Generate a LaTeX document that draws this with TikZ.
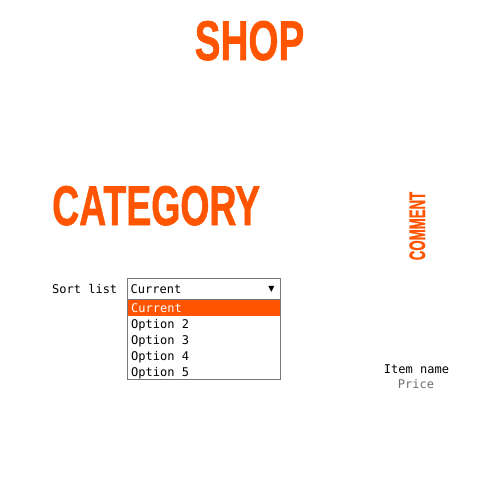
\documentclass[tikz,border=0pt]{standalone}
\usepackage{fontspec}
\setmainfont{Liberation Sans}
\newfontfamily\headfont[FakeBold=1.2]{Liberation Sans Bold}
\newfontfamily\monofont{DejaVu Sans Mono}
\newfontfamily\symfont{DejaVu Sans}
\definecolor{shoporange}{RGB}{255,85,0}
\definecolor{boxgray}{RGB}{118,118,118}
\definecolor{pricegray}{RGB}{110,110,110}
\begin{document}
\begin{tikzpicture}[x=1bp,y=-1bp,
  headline/.style={text=shoporange,inner sep=0pt,font=\headfont\fontsize{56bp}{60bp}\selectfont},
  monotext/.style={inner sep=0pt,font=\monofont\fontsize{12bp}{14bp}\selectfont},
  optiontext/.style={monotext,anchor=base west},
  boxline/.style={draw=boxgray,line width=1bp}]
\useasboundingbox[fill=white] (0,0) rectangle (500,500);
% titles
\node[headline,anchor=base] (shop) at (249.5,60) {\scalebox{0.69}[1]{SHOP}};
\node[headline,anchor=base west] (cat) at (52,225) {\scalebox{0.668}[1]{CATEGORY}};
\node[text=shoporange,inner sep=0pt,anchor=base,rotate=90,font=\headfont\fontsize{22.4bp}{24bp}\selectfont] (comment) at (425,226) {\scalebox{0.59}[1]{COMMENT}};
% sort list
\node[monotext,anchor=base west] (sortlbl) at (52,293) {Sort list};
\draw[boxline] (127.5,278) rectangle (280.5,299.5);
\node[coordinate] (selbox) at (127.5,278) {};
\node[optiontext] (selcur) at (130.5,293) {Current};
\node[inner sep=0pt,anchor=base,font=\symfont\fontsize{8bp}{9bp}\selectfont] (arrow) at (271.5,291.5) {▼};
% dropdown list
\fill[shoporange] (127.5,299.5) rectangle (280.5,315.5);
\draw[boxline] (127.5,299.5) rectangle (280.5,379.5);
\node[optiontext,text=white] (opt1) at (131,312) {Current};
\node[optiontext] (opt2) at (131,328) {Option 2};
\node[optiontext] (opt3) at (131,344) {Option 3};
\node[optiontext] (opt4) at (131,360) {Option 4};
\node[optiontext] (opt5) at (131,376) {Option 5};
% item
\node[monotext,anchor=base] (item) at (416.5,373) {Item name};
\node[monotext,anchor=base,text=pricegray] (price) at (416,388.5) {Price};
\end{tikzpicture}
\end{document}
